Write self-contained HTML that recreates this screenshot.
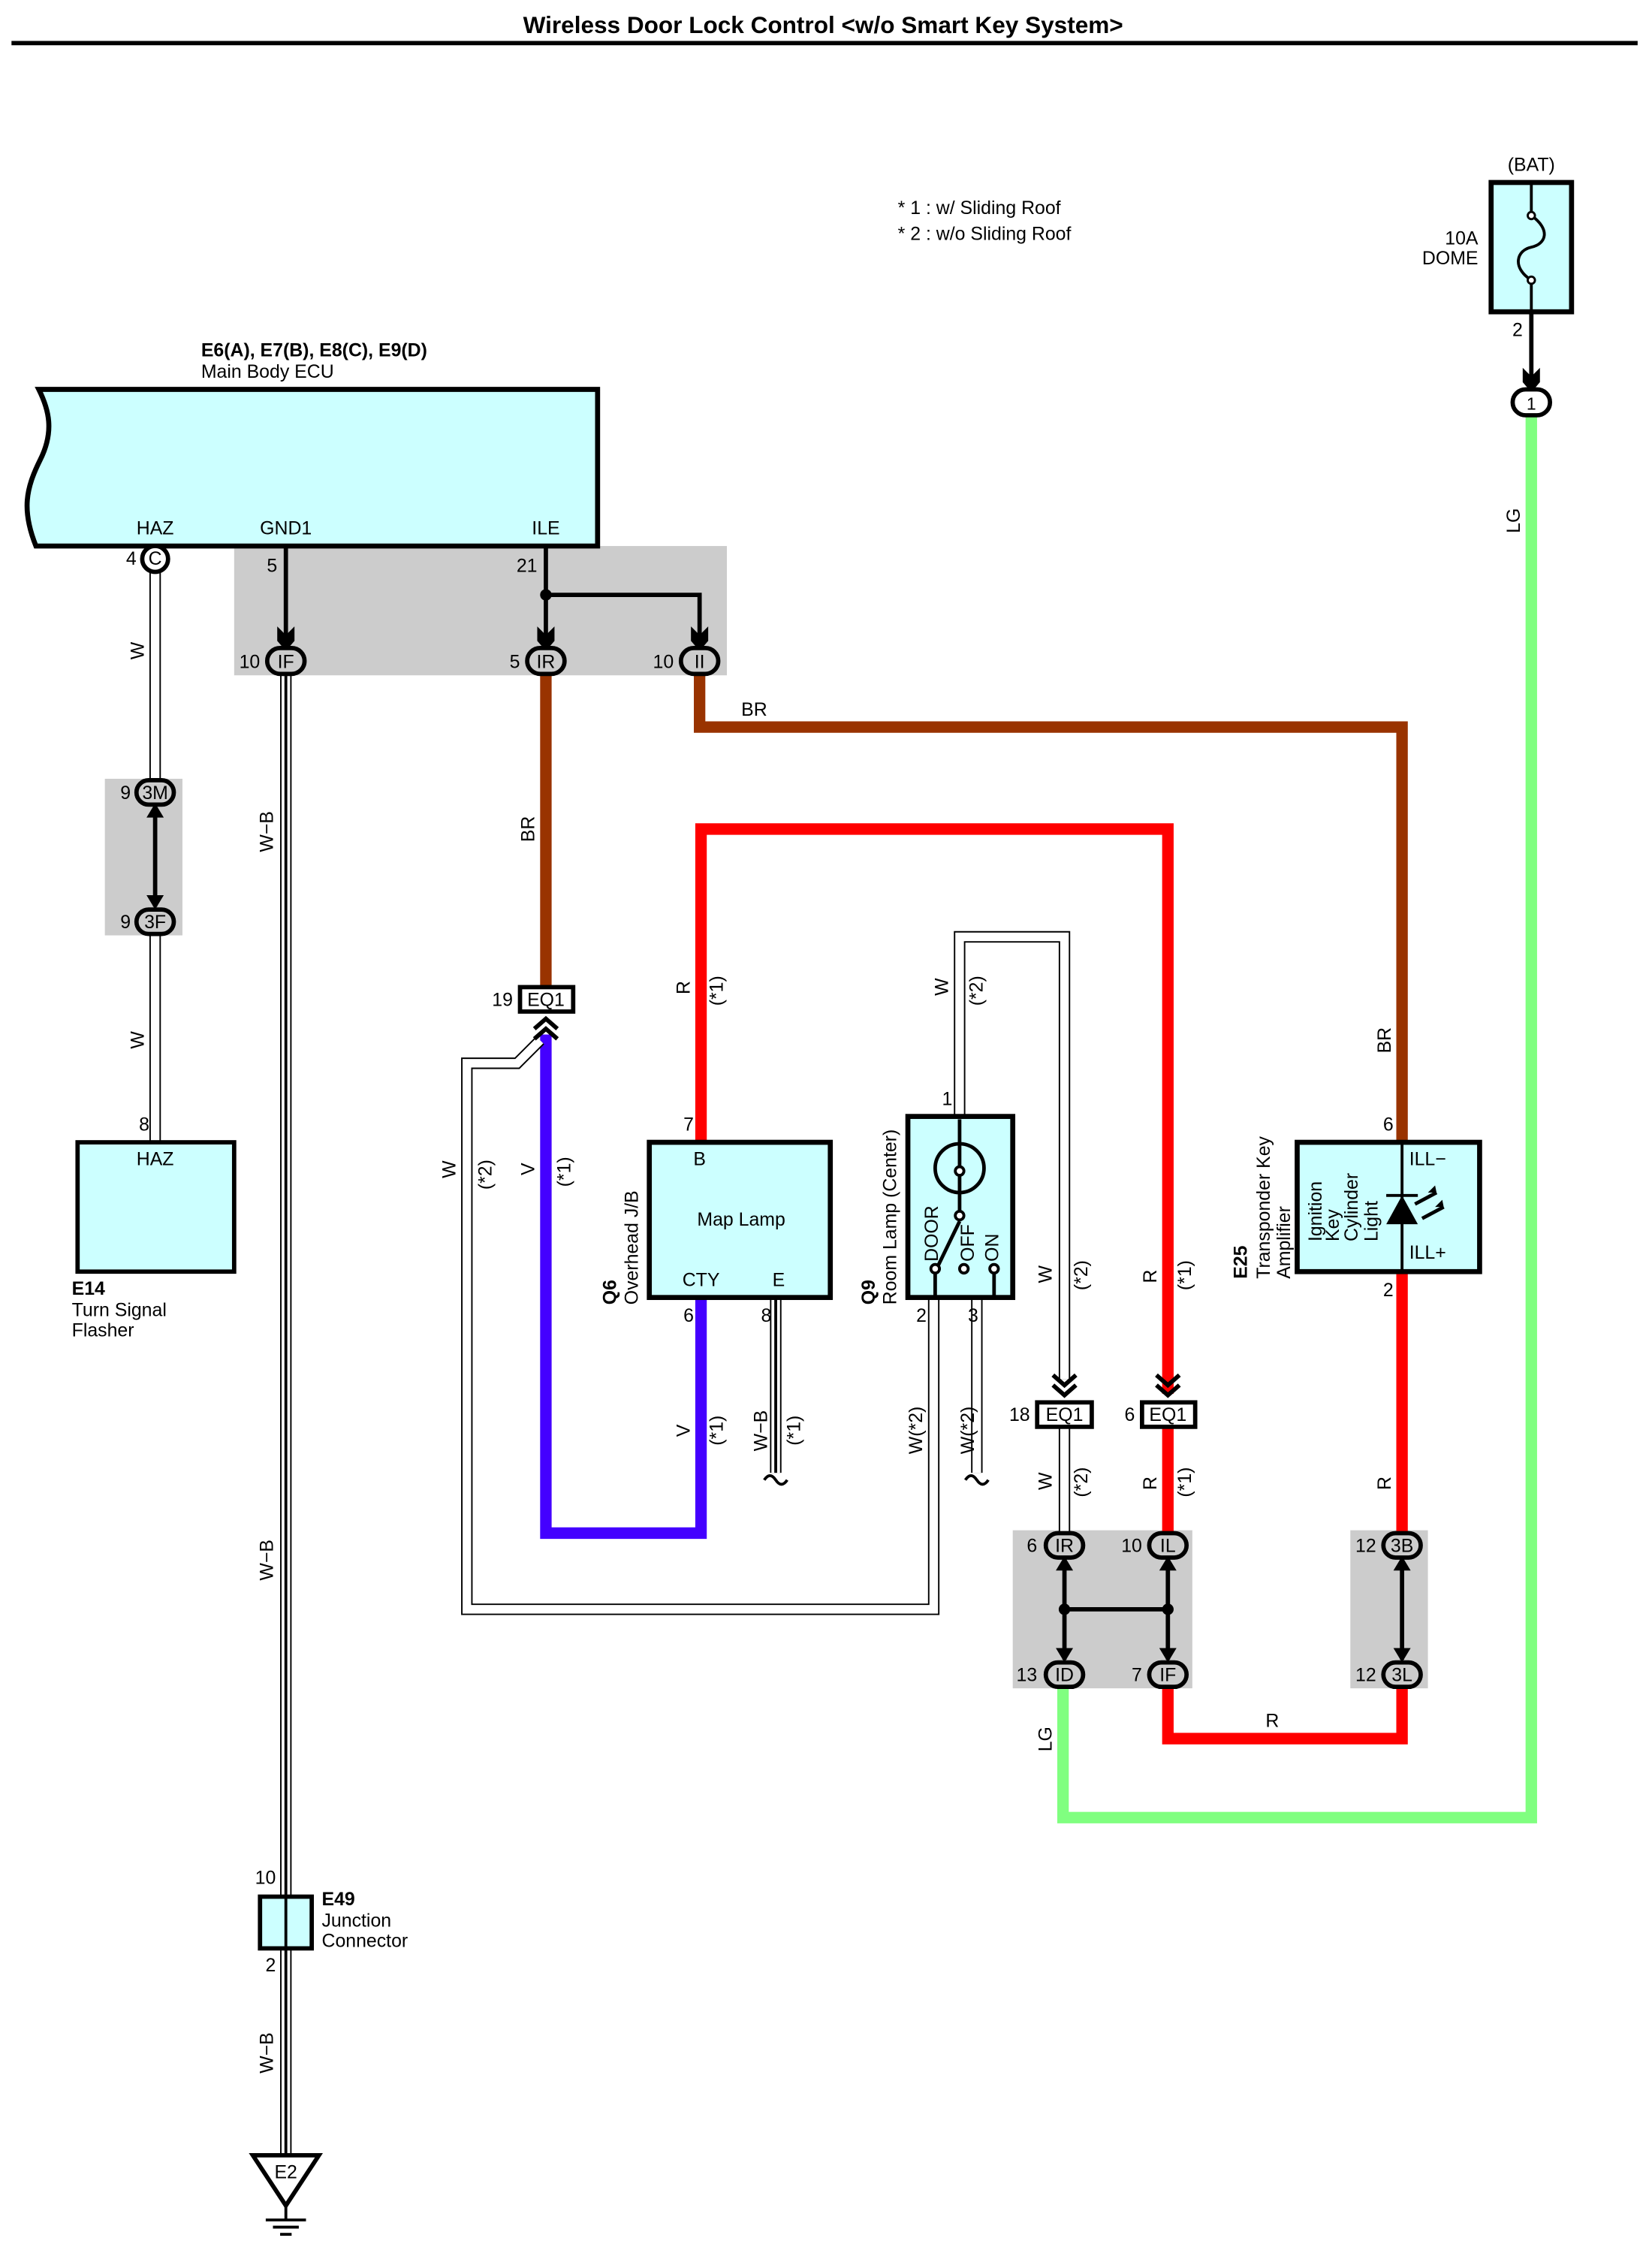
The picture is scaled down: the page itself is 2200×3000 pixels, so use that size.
<!DOCTYPE html>
<html><head><meta charset="utf-8"><style>
html,body{margin:0;padding:0;background:#fff}
svg{display:block}
text{font-family:"Liberation Sans",sans-serif;fill:#000}
</style></head><body>
<svg width="2200" height="3000" viewBox="0 0 1150 1568" preserveAspectRatio="none" xmlns="http://www.w3.org/2000/svg">
<defs>
<g id="dart"><path d="M-6,-12 L0,-6 L6,-12 L6,-2 L0,5 L-6,-2 Z" fill="#000"/></g>
<g id="chev"><path d="M-8,-2 L0,-9 L8,-2 M-8,5 L0,-2 L8,5" fill="none" stroke="#000" stroke-width="3"/></g>
<g id="chevd"><path d="M-8,2 L0,9 L8,2 M-8,-5 L0,2 L8,-5" fill="none" stroke="#000" stroke-width="3"/></g>
</defs>
<text x="573" y="23" font-size="16.5" font-weight="bold" text-anchor="middle">Wireless Door Lock Control &lt;w/o Smart Key System&gt;</text>
<line x1="8" y1="30" x2="1140" y2="30" stroke="#000" stroke-width="3"/>

<text x="625" y="149" font-size="13">* 1 : w/ Sliding Roof</text>
<text x="625" y="167" font-size="13">* 2 : w/o Sliding Roof</text>

<rect x="163" y="380" width="343" height="90" fill="#cccccc"/>
<rect x="73" y="542" width="54" height="109" fill="#cccccc"/>
<rect x="705" y="1065" width="125" height="110" fill="#cccccc"/>
<rect x="940" y="1065" width="54" height="110" fill="#cccccc"/>

<text x="140" y="248" font-size="13" font-weight="bold">E6(A), E7(B), E8(C), E9(D)</text>
<text x="140" y="263" font-size="13">Main Body ECU</text>
<path d="M27,271 L416,271 L416,380 L25,380 C15,355 18,340 28,320 C38,300 34,285 27,271 Z" fill="#ccffff" stroke="#000" stroke-width="3.5"/>
<text x="108" y="372" font-size="13" text-anchor="middle">HAZ</text>
<text x="199" y="372" font-size="13" text-anchor="middle">GND1</text>
<text x="380" y="372" font-size="13" text-anchor="middle">ILE</text>

<g fill="none" stroke-linejoin="miter">
<path d="M380,470 L380,687" stroke="#993300" stroke-width="8"/>
<path d="M487,470 L487,506 L976,506 L976,795" stroke="#993300" stroke-width="8"/>
<path d="M380,720 L380,1067 L488,1067 L488,903" stroke="#4400ff" stroke-width="8"/>
<path d="M488,795 L488,577 L813,577 L813,970" stroke="#ff0000" stroke-width="8"/>
<path d="M813,990 L813,1068" stroke="#ff0000" stroke-width="8"/>
<path d="M813,1173 L813,1210 L976,1210 L976,1173" stroke="#ff0000" stroke-width="8"/>
<path d="M976,1068 L976,885" stroke="#ff0000" stroke-width="8"/>
<path d="M1066,290 L1066,1265 L740,1265 L740,1173" stroke="#80ff80" stroke-width="8"/>
</g>
<g fill="none" stroke-linejoin="miter">
<g stroke="#000" stroke-width="8">
<path d="M108,398 L108,543"/><path d="M108,651 L108,795"/>
<path d="M199,470 L199,1320"/><path d="M199,1356 L199,1500"/>
<path d="M668,777 L668,652 L741,652 L741,960"/>
<path d="M741,992 L741,1068"/>
<path d="M376,724 L360,740 L325,740 L325,1120 L650,1120 L650,903"/>
<path d="M680,903 L680,1025"/>
<path d="M540,903 L540,1025"/>
</g>
<g stroke="#fff" stroke-width="6">
<path d="M108,398 L108,543"/><path d="M108,651 L108,795"/>
<path d="M199,470 L199,1320"/><path d="M199,1356 L199,1500"/>
<path d="M668,777 L668,652 L741,652 L741,960"/>
<path d="M741,992 L741,1068"/>
<path d="M376,724 L360,740 L325,740 L325,1120 L650,1120 L650,903"/>
<path d="M680,903 L680,1025"/>
<path d="M540,903 L540,1025"/>
</g>
<g stroke="#000" stroke-width="2">
<path d="M199,470 L199,1320"/><path d="M199,1356 L199,1500"/><path d="M540,903 L540,1025"/>
</g>
</g>
<path d="M532,1030 q4,-6 8,0 t8,0" fill="none" stroke="#000" stroke-width="2"/>
<path d="M672,1030 q4,-6 8,0 t8,0" fill="none" stroke="#000" stroke-width="2"/>

<g stroke="#000" stroke-width="3" fill="none">
<path d="M199,380 L199,448"/>
<path d="M380,380 L380,448"/>
<path d="M380,414 L487,414 L487,448"/>
<path d="M108,561 L108,631"/>
<path d="M741,1085 L741,1155"/><path d="M813,1085 L813,1155"/><path d="M741,1120 L813,1120"/>
<path d="M976,1085 L976,1155"/>
<path d="M1066,217 L1066,268"/>
</g>
<circle cx="380" cy="414" r="4"/>
<circle cx="741" cy="1120" r="4"/><circle cx="813" cy="1120" r="4"/>
<use href="#dart" x="199" y="448"/><use href="#dart" x="380" y="448"/><use href="#dart" x="487" y="448"/>
<use href="#dart" x="1066" y="268"/>
<path d="M102,569 L108,559 L114,569 Z M102,623 L108,633 L114,623 Z" fill="#000"/>
<path d="M735,1093 L741,1083 L747,1093 Z M735,1147 L741,1157 L747,1147 Z" fill="#000"/>
<path d="M807,1093 L813,1083 L819,1093 Z M807,1147 L813,1157 L819,1147 Z" fill="#000"/>
<path d="M970,1093 L976,1083 L982,1093 Z M970,1147 L976,1157 L982,1147 Z" fill="#000"/>

<g stroke="#000" stroke-width="3" fill="#ccc">
<rect x="186" y="451" width="26" height="18" rx="9"/>
<rect x="367" y="451" width="26" height="18" rx="9"/>
<rect x="474" y="451" width="26" height="18" rx="9"/>
<rect x="95" y="543" width="26" height="17" rx="8.5"/>
<rect x="95" y="633" width="26" height="17" rx="8.5"/>
<rect x="728" y="1067" width="26" height="17" rx="8.5"/>
<rect x="800" y="1067" width="26" height="17" rx="8.5"/>
<rect x="728" y="1157" width="26" height="17" rx="8.5"/>
<rect x="800" y="1157" width="26" height="17" rx="8.5"/>
<rect x="963" y="1067" width="26" height="17" rx="8.5"/>
<rect x="963" y="1157" width="26" height="17" rx="8.5"/>
<rect x="1053" y="271" width="26" height="18" rx="9" fill="#fff"/>
</g>
<circle cx="108" cy="389" r="9" fill="#fff" stroke="#000" stroke-width="3"/>
<g font-size="13" text-anchor="middle">
<text x="108" y="393">C</text>
<text x="199" y="465">IF</text><text x="380" y="465">IR</text><text x="487" y="465">II</text>
<text x="108" y="556">3M</text><text x="108" y="646">3F</text>
<text x="741" y="1080">IR</text><text x="813" y="1080">IL</text>
<text x="741" y="1170">ID</text><text x="813" y="1170">IF</text>
<text x="976" y="1080">3B</text><text x="976" y="1170">3L</text>
<text x="1066" y="285" font-size="12">1</text>
</g>
<g font-size="13" text-anchor="end">
<text x="95" y="393">4</text><text x="193" y="398">5</text><text x="374" y="398">21</text>
<text x="181" y="465">10</text><text x="362" y="465">5</text><text x="469" y="465">10</text>
<text x="91" y="556">9</text><text x="91" y="646">9</text>
<text x="722" y="1080">6</text><text x="795" y="1080">10</text>
<text x="722" y="1170">13</text><text x="795" y="1170">7</text>
<text x="958" y="1080">12</text><text x="958" y="1170">12</text>
<text x="1060" y="234">2</text>
<text x="104" y="787">8</text><text x="192" y="1311">10</text><text x="192" y="1372">2</text>
<text x="483" y="787">7</text><text x="483" y="920">6</text><text x="537" y="920">8</text>
<text x="663" y="769">1</text><text x="645" y="920">2</text><text x="681" y="920">3</text>
<text x="970" y="787">6</text><text x="970" y="902">2</text>
</g>

<g stroke="#000" stroke-width="3" fill="#fff">
<rect x="362" y="687" width="37" height="17"/>
<rect x="722" y="976" width="38" height="17"/>
<rect x="795" y="976" width="37" height="17"/>
</g>
<g font-size="13" text-anchor="middle">
<text x="380" y="700">EQ1</text><text x="741" y="989">EQ1</text><text x="813" y="989">EQ1</text>
</g>
<g font-size="13" text-anchor="end">
<text x="357" y="700">19</text><text x="717" y="989">18</text><text x="790" y="989">6</text>
</g>
<use href="#chev" x="380" y="718"/>
<use href="#chevd" x="741" y="962"/>
<use href="#chevd" x="813" y="962"/>

<rect x="54" y="795" width="109" height="90" fill="#ccffff" stroke="#000" stroke-width="3"/>
<text x="108" y="811" font-size="13" text-anchor="middle">HAZ</text>
<text x="50" y="901" font-size="13" font-weight="bold">E14</text>
<text x="50" y="916" font-size="13">Turn Signal</text>
<text x="50" y="930" font-size="13">Flasher</text>

<rect x="181" y="1320" width="36" height="36" fill="#ccffff" stroke="#000" stroke-width="3"/>
<line x1="199" y1="1320" x2="199" y2="1356" stroke="#000" stroke-width="2"/>
<text x="224" y="1326" font-size="13" font-weight="bold">E49</text>
<text x="224" y="1341" font-size="13">Junction</text>
<text x="224" y="1355" font-size="13">Connector</text>
<path d="M176,1500 L222,1500 L199,1535 Z" fill="#fff" stroke="#000" stroke-width="3"/>
<text x="199" y="1516" font-size="13" text-anchor="middle">E2</text>
<g stroke="#000" stroke-width="2"><line x1="199" y1="1535" x2="199" y2="1545"/><line x1="185" y1="1545" x2="213" y2="1545"/><line x1="190" y1="1550" x2="208" y2="1550"/><line x1="195" y1="1555" x2="203" y2="1555"/></g>

<rect x="452" y="795" width="126" height="108" fill="#ccffff" stroke="#000" stroke-width="3.5"/>
<text x="487" y="811" font-size="13" text-anchor="middle">B</text>
<text x="516" y="853" font-size="13" text-anchor="middle">Map Lamp</text>
<text x="488" y="895" font-size="13" text-anchor="middle">CTY</text>
<text x="542" y="895" font-size="13" text-anchor="middle">E</text>
<text transform="translate(429,908) rotate(-90)" font-size="13" font-weight="bold">Q6</text>
<text transform="translate(444,908) rotate(-90)" font-size="13">Overhead J/B</text>

<rect x="632" y="777" width="73" height="126" fill="#ccffff" stroke="#000" stroke-width="3.5"/>
<g stroke="#000" stroke-width="2.5" fill="none">
<line x1="668" y1="779" x2="668" y2="850"/>
<circle cx="668" cy="813" r="17"/>
<line x1="668" y1="850" x2="652" y2="883"/>
<line x1="651" y1="883" x2="651" y2="903"/>
<line x1="692" y1="883" x2="692" y2="903"/>
</g>
<g fill="#fff" stroke="#000" stroke-width="2"><circle cx="668" cy="846" r="3"/><circle cx="651" cy="883" r="3"/><circle cx="671" cy="883" r="3"/><circle cx="692" cy="883" r="3"/><circle cx="668" cy="815" r="3"/></g>
<text transform="translate(653,878) rotate(-90)" font-size="13">DOOR</text>
<text transform="translate(678,878) rotate(-90)" font-size="13">OFF</text>
<text transform="translate(695,878) rotate(-90)" font-size="13">ON</text>
<text transform="translate(609,908) rotate(-90)" font-size="13" font-weight="bold">Q9</text>
<text transform="translate(624,908) rotate(-90)" font-size="13">Room Lamp (Center)</text>

<rect x="903" y="795" width="127" height="90" fill="#ccffff" stroke="#000" stroke-width="3.5"/>
<line x1="976" y1="795" x2="976" y2="885" stroke="#000" stroke-width="2"/>
<path d="M965,852 L987,852 L976,832 Z" fill="#000"/>
<line x1="965" y1="832" x2="987" y2="832" stroke="#000" stroke-width="2"/>
<path d="M985,838 L1000,830 M990,848 L1005,840" stroke="#000" stroke-width="2.5"/>
<path d="M1000,830 l-6,0 l5,-5 z M1005,840 l-6,0 l5,-5 z" fill="#000"/>
<text x="981" y="811" font-size="13">ILL−</text>
<text x="981" y="876" font-size="13">ILL+</text>
<text transform="translate(920,864) rotate(-90)" font-size="13">Ignition</text>
<text transform="translate(932,864) rotate(-90)" font-size="13">Key</text>
<text transform="translate(945,864) rotate(-90)" font-size="13">Cylinder</text>
<text transform="translate(959,864) rotate(-90)" font-size="13">Light</text>
<text transform="translate(868,890) rotate(-90)" font-size="13" font-weight="bold">E25</text>
<text transform="translate(884,890) rotate(-90)" font-size="13">Transponder Key</text>
<text transform="translate(898,890) rotate(-90)" font-size="13">Amplifier</text>

<text x="1066" y="119" font-size="13" text-anchor="middle">(BAT)</text>
<rect x="1038" y="127" width="56" height="90" fill="#ccffff" stroke="#000" stroke-width="3.5"/>
<line x1="1066" y1="127" x2="1066" y2="150" stroke="#000" stroke-width="2"/>
<line x1="1066" y1="195" x2="1066" y2="217" stroke="#000" stroke-width="2"/>
<path d="M1066,150 C1080,160 1076,170 1066,172 C1056,174 1052,186 1066,195" fill="none" stroke="#000" stroke-width="2"/>
<circle cx="1066" cy="150" r="2.5" fill="#fff" stroke="#000" stroke-width="1.5"/><circle cx="1066" cy="195" r="2.5" fill="#fff" stroke="#000" stroke-width="1.5"/>
<text x="1029" y="170" font-size="13" text-anchor="end">10A</text>
<text x="1029" y="184" font-size="13" text-anchor="end">DOME</text>

<g font-size="13">
<text transform="translate(100,459) rotate(-90)">W</text>
<text transform="translate(100,730) rotate(-90)">W</text>
<text transform="translate(190,593) rotate(-90)">W−B</text>
<text transform="translate(190,1100) rotate(-90)">W−B</text>
<text transform="translate(190,1443) rotate(-90)">W−B</text>
<text transform="translate(372,586) rotate(-90)">BR</text>
<text transform="translate(480,692) rotate(-90)">R</text>
<text transform="translate(503,700) rotate(-90)">(*1)</text>
<text transform="translate(660,693) rotate(-90)">W</text>
<text transform="translate(684,700) rotate(-90)">(*2)</text>
<text transform="translate(317,820) rotate(-90)">W</text>
<text transform="translate(342,828) rotate(-90)">(*2)</text>
<text transform="translate(372,818) rotate(-90)">V</text>
<text transform="translate(397,826) rotate(-90)">(*1)</text>
<text transform="translate(480,1000) rotate(-90)">V</text>
<text transform="translate(503,1006) rotate(-90)">(*1)</text>
<text transform="translate(534,1010) rotate(-90)">W−B</text>
<text transform="translate(557,1006) rotate(-90)">(*1)</text>
<text transform="translate(642,1012) rotate(-90)">W(*2)</text>
<text transform="translate(678,1012) rotate(-90)">W(*2)</text>
<text transform="translate(732,893) rotate(-90)">W</text>
<text transform="translate(757,898) rotate(-90)">(*2)</text>
<text transform="translate(805,893) rotate(-90)">R</text>
<text transform="translate(829,898) rotate(-90)">(*1)</text>
<text transform="translate(732,1037) rotate(-90)">W</text>
<text transform="translate(757,1042) rotate(-90)">(*2)</text>
<text transform="translate(805,1037) rotate(-90)">R</text>
<text transform="translate(829,1042) rotate(-90)">(*1)</text>
<text transform="translate(968,1037) rotate(-90)">R</text>
<text transform="translate(968,733) rotate(-90)">BR</text>
<text transform="translate(1058,371) rotate(-90)">LG</text>
<text transform="translate(732,1219) rotate(-90)">LG</text>
<text x="516" y="498">BR</text>
<text x="881" y="1202">R</text>
</g>
</svg>
</body></html>
